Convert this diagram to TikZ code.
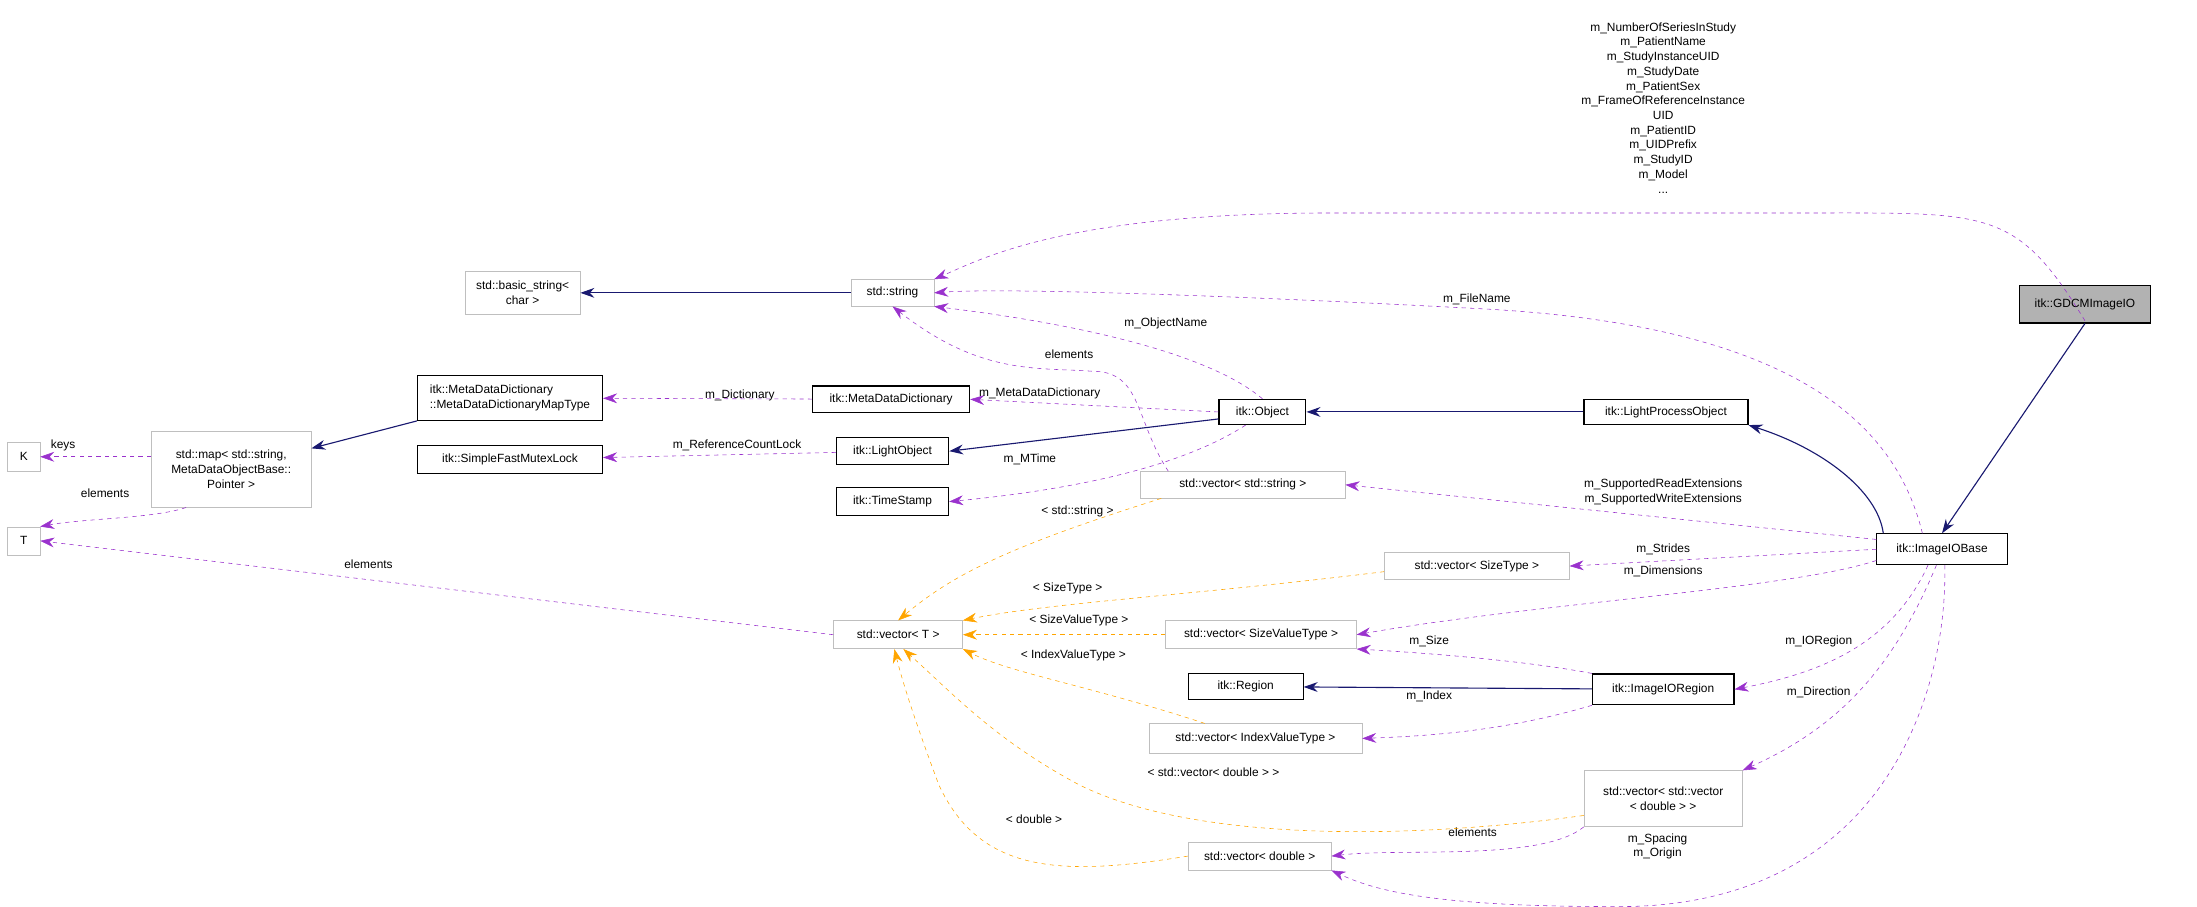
\documentclass[tikz,border=0pt]{standalone}
\usepackage{fontspec}
\setmainfont{Liberation Sans}
\usetikzlibrary{arrows.meta}
\definecolor{navy}{HTML}{191970}
\definecolor{purp}{HTML}{9A32CD}
\definecolor{orng}{HTML}{FFA500}
\definecolor{gbord}{HTML}{BFBFBF}
\begin{document}
\begin{tikzpicture}[x=1pt,y=-1pt,
  every node/.style={font=\fontsize{8.5}{10.5}\selectfont},
  cls/.style={draw=black,thick,fill=white,inner sep=3pt,align=center},
  ext/.style={draw=gbord,fill=white,inner sep=3pt,align=center},
  inh/.style={navy,thick,-{Stealth[length=10pt,width=7pt]}},
  use/.style={purp,dashed,-{Stealth[length=10pt,width=7pt]}},
  tpl/.style={orng,dashed,-{Stealth[length=10pt,width=7pt]}},
  lbl/.style={align=center,inner sep=1pt}]
\useasboundingbox (0,0) rectangle (1568,647);
% nodes
\node[cls,fill=gray!60,minimum width=93pt,minimum height=27pt] (gdcm) at (1488,217) {itk::GDCMImageIO};
\node[ext,minimum width=82pt,minimum height=31pt] (bstr) at (373,209) {std::basic\_string\textless\\char \textgreater};
\node[ext,minimum width=59pt,minimum height=19pt] (str) at (637,209) {std::string};
\node[cls,minimum width=132pt,minimum height=32pt,align=left] (mapt) at (364,284) {itk::MetaDataDictionary\\::MetaDataDictionaryMapType};
\node[ext,minimum width=114pt,minimum height=54pt] (map) at (165,335) {std::map\textless{} std::string,\\MetaDataObjectBase::\\Pointer \textgreater};
\node[ext,minimum width=23pt,minimum height=20pt] (K) at (17,326) {K};
\node[ext,minimum width=23pt,minimum height=20pt] (T) at (17,386) {T};
\node[cls,minimum width=132pt,minimum height=20pt] (mutex) at (364,328) {itk::SimpleFastMutexLock};
\node[cls,minimum width=112pt,minimum height=19pt] (mdd) at (636,285) {itk::MetaDataDictionary};
\node[cls,minimum width=80pt,minimum height=19pt] (lobj) at (637,322) {itk::LightObject};
\node[cls,minimum width=80pt,minimum height=20pt] (ts) at (637,358) {itk::TimeStamp};
\node[cls,minimum width=62pt,minimum height=18pt] (obj) at (901,294) {itk::Object};
\node[cls,minimum width=117pt,minimum height=18pt] (lpo) at (1189,294) {itk::LightProcessObject};
\node[ext,minimum width=146pt,minimum height=19pt] (vstr) at (887,346) {std::vector\textless{} std::string \textgreater};
\node[ext,minimum width=92pt,minimum height=20pt] (vT) at (641,453) {std::vector\textless{} T \textgreater};
\node[ext,minimum width=132pt,minimum height=19pt] (vsz) at (1054,404) {std::vector\textless{} SizeType \textgreater};
\node[cls,minimum width=93pt,minimum height=22pt] (iob) at (1386,392) {itk::ImageIOBase};
\node[ext,minimum width=136pt,minimum height=20pt] (vszv) at (900,453) {std::vector\textless{} SizeValueType \textgreater};
\node[cls,minimum width=82pt,minimum height=19pt] (reg) at (889,490) {itk::Region};
\node[cls,minimum width=101pt,minimum height=22pt] (ior) at (1187,492) {itk::ImageIORegion};
\node[ext,minimum width=152pt,minimum height=21pt] (vidx) at (896,527) {std::vector\textless{} IndexValueType \textgreater};
\node[ext,minimum width=113pt,minimum height=40pt] (vvd) at (1187,570) {std::vector\textless{} std::vector\\\textless{} double \textgreater{} \textgreater};
\node[ext,minimum width=102pt,minimum height=20pt] (vd) at (899,611) {std::vector\textless{} double \textgreater};
% inheritance
\draw[inh] (str) -- (bstr);
\draw[inh] (mapt.south west) -- (map.north east |- 0,320);
\draw[inh] (obj.west) ++(0,5) coordinate (o1) -- (lobj.east);
\draw[inh] (lpo) -- (obj);
\draw[inh] (iob.north west) ++(5,0) coordinate (i1) .. controls (1340,350) and (1300,320) .. (lpo.south east);
\draw[inh] (gdcm.south) -- (iob.north);
\draw[inh] (ior) -- (reg);
% usage
\draw[use] (gdcm.south) ++(0,-2) coordinate (g1) .. controls (1440,150) and (1420,152) .. (1300,152) -- (950,152) .. controls (760,152) and (700,185) .. (str.north east);
\node[lbl] at (1187,77) {m\_NumberOfSeriesInStudy\\m\_PatientName\\m\_StudyInstanceUID\\m\_StudyDate\\m\_PatientSex\\m\_FrameOfReferenceInstance\\UID\\m\_PatientID\\m\_UIDPrefix\\m\_StudyID\\m\_Model\\...};
\draw[use] (iob.north) ++(-14,0) coordinate (i2) .. controls (1350,290) and (1260,230) .. (1050,220) .. controls (900,212) and (720,205) .. (str.east);
\node[lbl] at (1054,214) {m\_FileName};
\draw[use] (obj.north) .. controls (860,250) and (760,230) .. (str.south east);
\node[lbl] at (832,231) {m\_ObjectName};
\draw[use] (vstr.north west) ++(20,0) coordinate (v1) .. controls (810,300) and (815,265) .. (780,265) .. controls (740,262) and (700,268) .. (str.south);
\node[lbl] at (763,253) {elements};
\draw[use] (mdd) -- (mapt);
\node[lbl] at (528,282) {m\_Dictionary};
\draw[use] (obj.west) -- (mdd.east);
\node[lbl] at (742,281) {m\_MetaDataDictionary};
\draw[use] (lobj) -- (mutex);
\node[lbl] at (526,318) {m\_ReferenceCountLock};
\draw[use] (obj.south) ++(-12,0) coordinate (o2) .. controls (840,335) and (760,350) .. (ts.east);
\node[lbl] at (735,328) {m\_MTime};
\draw[use] (map.west |- K) -- (K);
\node[lbl] at (45,318) {keys};
\draw[use] (map.south west) ++(25,0) coordinate (m1) .. controls (110,370) and (60,370) .. (T.north east);
\node[lbl] at (75,352) {elements};
\draw[use] (vT.west) -- (T.east);
\node[lbl] at (263,403) {elements};
\draw[use] (iob.west) ++(0,-7) coordinate (i3) -- (vstr.east);
\node[lbl] at (1187,351) {m\_SupportedReadExtensions\\m\_SupportedWriteExtensions};
\draw[use] (iob.west) -- (vsz.east);
\node[lbl] at (1187,392) {m\_Strides};
\draw[use] (iob.west) ++(0,8) coordinate (i4) .. controls (1280,420) and (1100,430) .. (vszv.east);
\node[lbl] at (1187,408) {m\_Dimensions};
\draw[use] (ior.north west) .. controls (1080,470) and (1000,465) .. (vszv.south east);
\node[lbl] at (1020,458) {m\_Size};
\draw[use] (iob.south) ++(-10,0) coordinate (i5) .. controls (1350,460) and (1300,480) .. (ior.east);
\node[lbl] at (1298,458) {m\_IORegion};
\draw[use] (ior.south west) .. controls (1080,520) and (1030,525) .. (vidx.east);
\node[lbl] at (1020,497) {m\_Index};
\draw[use] (iob.south) ++(-4,0) coordinate (i6) .. controls (1350,480) and (1310,520) .. (vvd.north east);
\node[lbl] at (1298,494) {m\_Direction};
\draw[use] (vvd.south west) .. controls (1100,615) and (1000,605) .. (vd.east);
\node[lbl] at (1051,594) {elements};
\draw[use] (iob.south) ++(2,0) coordinate (i7) .. controls (1390,500) and (1340,650) .. (1150,647) .. controls (1020,647) and (980,635) .. (vd.south east);
\node[lbl] at (1183,604) {m\_Spacing\\m\_Origin};
% templates
\draw[tpl] (vstr.south west) ++(15,0) coordinate (v2) .. controls (720,390) and (680,410) .. (vT.north);
\node[lbl] at (769,365) {\textless{} std::string \textgreater};
\draw[tpl] (vsz.west) ++(0,4) coordinate (v3) .. controls (850,425) and (750,430) .. (vT.north east);
\node[lbl] at (762,420) {\textless{} SizeType \textgreater};
\draw[tpl] (vszv.west) -- (vT.east);
\node[lbl] at (770,443) {\textless{} SizeValueType \textgreater};
\draw[tpl] (vidx.north west) ++(40,0) coordinate (v4) .. controls (780,490) and (720,480) .. (vT.south east);
\node[lbl] at (766,468) {\textless{} IndexValueType \textgreater};
\draw[tpl] (vvd.west) ++(0,12) coordinate (v5) .. controls (1000,600) and (850,600) .. (770,560) .. controls (710,528) and (680,495) .. (vT.290);
\node[lbl] at (866,551) {\textless{} std::vector\textless{} double \textgreater{} \textgreater};
\draw[tpl] (vd.west) .. controls (760,625) and (700,625) .. (670,560) .. controls (655,520) and (645,490) .. (vT.255);
\node[lbl] at (738,585) {\textless{} double \textgreater};
\end{tikzpicture}
\end{document}
